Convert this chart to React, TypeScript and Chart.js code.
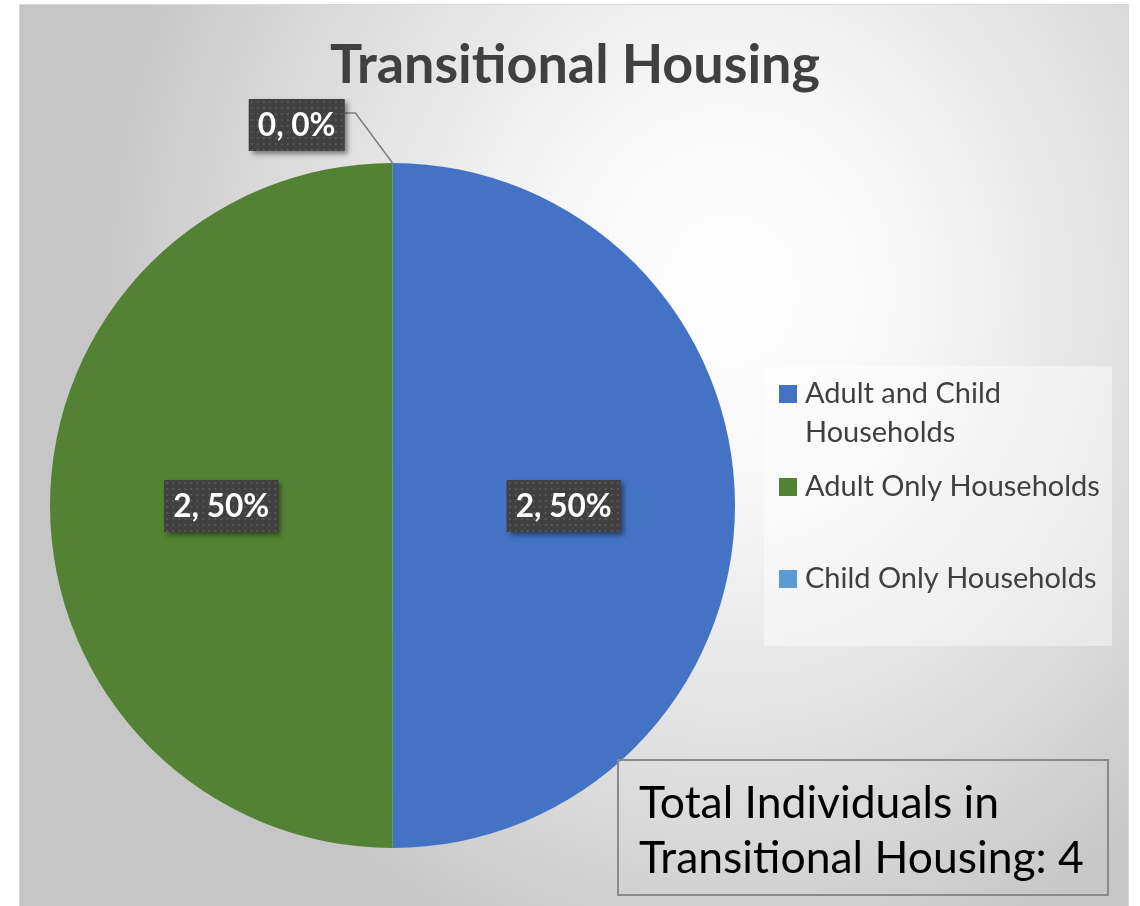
import React, { useEffect, useRef } from "react";
import { Chart, registerables } from "chart.js";

Chart.register(...registerables);

const categories = ["Adult and Child Households", "Adult Only Households", "Child Only Households"];
const values = [2, 2, 0];
const colors = ["#4472C4", "#548235", "#5B9BD5"];
const chartTitle = "Transitional Housing";
const totalPrefix = "Total Individuals in Transitional Housing: ";

const FONT = "Lato, 'Open Sans', sans-serif";

function fitSize(ctx: CanvasRenderingContext2D, text: string, targetW: number, weight: string) {
  ctx.font = `${weight} 100px ${FONT}`;
  const w = ctx.measureText(text).width;
  return (100 * targetW) / w;
}

function wrap(ctx: CanvasRenderingContext2D, text: string, maxW: number) {
  const words = text.split(" ");
  const lines: string[] = [];
  let cur = "";
  for (const w of words) {
    const t = cur ? cur + " " + w : w;
    if (ctx.measureText(t).width > maxW && cur) {
      lines.push(cur);
      cur = w;
    } else cur = t;
  }
  if (cur) lines.push(cur);
  return lines;
}

let patternCanvas: HTMLCanvasElement | null = null;
function getPattern(ctx: CanvasRenderingContext2D) {
  if (!patternCanvas) {
    patternCanvas = document.createElement("canvas");
    patternCanvas.width = 6;
    patternCanvas.height = 6;
    const p = patternCanvas.getContext("2d")!;
    p.fillStyle = "#404040";
    p.fillRect(0, 0, 6, 6);
    p.fillStyle = "#575757";
    p.fillRect(2, 2, 2, 2);
  }
  return ctx.createPattern(patternCanvas, "repeat")!;
}

function drawLabelBox(ctx: CanvasRenderingContext2D, text: string, cx: number, cy: number, fontSize: number) {
  ctx.font = `bold ${fontSize}px ${FONT}`;
  const tw = ctx.measureText(text).width;
  const bw = tw + 18;
  const bh = 52;
  const x = cx - bw / 2;
  const y = cy - bh / 2;
  ctx.save();
  ctx.shadowColor = "rgba(0,0,0,0.45)";
  ctx.shadowBlur = 5;
  ctx.shadowOffsetX = 3;
  ctx.shadowOffsetY = 3;
  ctx.fillStyle = "#404040";
  ctx.fillRect(x, y, bw, bh);
  ctx.restore();
  ctx.save();
  ctx.translate(x, y);
  ctx.fillStyle = getPattern(ctx);
  ctx.fillRect(0, 0, bw, bh);
  ctx.restore();
  ctx.fillStyle = "#ffffff";
  ctx.textAlign = "center";
  ctx.textBaseline = "alphabetic";
  ctx.fillText(text, cx, cy + fontSize * 0.36);
  return { x, y, w: bw, h: bh };
}

const decorPlugin = {
  id: "decor",
  beforeDraw(chart: any) {
    const ctx: CanvasRenderingContext2D = chart.ctx;
    const W = chart.width;
    const H = chart.height;
    ctx.save();
    ctx.fillStyle = "#ffffff";
    ctx.fillRect(0, 0, W, H);
    // framed area with elliptical radial gradient
    const fx = 19, fy = 4, fw = 1109, fh = H - fy + 2;
    const cx = 730, cy = 290, rx = 640, ry = 720;
    const s = ry / rx;
    ctx.save();
    ctx.beginPath();
    ctx.rect(fx, fy, fw, fh);
    ctx.clip();
    ctx.translate(cx, cy);
    ctx.scale(1, s);
    const g = ctx.createRadialGradient(0, 0, 0, 0, 0, rx);
    g.addColorStop(0, "#ffffff");
    g.addColorStop(0.3, "#f6f6f6");
    g.addColorStop(0.75, "#d9d9d9");
    g.addColorStop(1, "#c6c6c6");
    ctx.fillStyle = g;
    ctx.fillRect(fx - cx, (fy - cy) / s, fw, fh / s);
    ctx.restore();
    ctx.strokeStyle = "#d9d9d9";
    ctx.lineWidth = 1;
    ctx.strokeRect(fx + 0.5, fy + 0.5, fw, fh);
    ctx.restore();
  },
  afterDraw(chart: any) {
    const ctx: CanvasRenderingContext2D = chart.ctx;
    const meta = chart.getDatasetMeta(0);
    const data: number[] = chart.data.datasets[0].data;
    const labels: string[] = chart.data.labels;
    const bg: string[] = chart.data.datasets[0].backgroundColor;
    const total = data.reduce((a, b) => a + b, 0);

    ctx.save();
    // Title
    const tSize = fitSize(ctx, chartTitle, 490, "bold");
    ctx.font = `bold ${tSize}px ${FONT}`;
    ctx.fillStyle = "#404040";
    ctx.textAlign = "center";
    ctx.textBaseline = "alphabetic";
    ctx.fillText(chartTitle, 575, 83);

    // Data labels
    const lblSize = fitSize(ctx, "2, 50%", 96, "bold");
    meta.data.forEach((arc: any, i: number) => {
      const p = arc.getProps(["x", "y", "startAngle", "endAngle", "outerRadius"], true);
      const v = data[i];
      const pct = Math.round((v / total) * 100);
      const text = `${v}, ${pct}%`;
      if (v > 0) {
        const mid = (p.startAngle + p.endAngle) / 2;
        const lx = p.x + Math.cos(mid) * p.outerRadius * 0.5;
        const ly = p.y + Math.sin(mid) * p.outerRadius * 0.5;
        drawLabelBox(ctx, text, lx, ly + 0.5, lblSize);
      } else {
        const ex = p.x + Math.cos(p.startAngle) * p.outerRadius;
        const ey = p.y + Math.sin(p.startAngle) * p.outerRadius;
        ctx.font = `bold ${lblSize}px ${FONT}`;
        const bw = ctx.measureText(text).width + 18;
        const right = ex - 48;
        const bcx = right - bw / 2;
        const bcy = ey - 38;
        ctx.save();
        ctx.strokeStyle = "#7f7f7f";
        ctx.lineWidth = 1.5;
        ctx.beginPath();
        ctx.moveTo(ex, ey);
        ctx.lineTo(ex - 37, ey - 50);
        ctx.lineTo(right, ey - 50);
        ctx.stroke();
        ctx.restore();
        drawLabelBox(ctx, text, bcx, bcy, lblSize);
      }
    });

    // Legend
    ctx.fillStyle = "rgba(255,255,255,0.42)";
    ctx.fillRect(764, 366, 348, 280);
    const legSize = fitSize(ctx, "Adult Only Households", 295, "normal");
    ctx.font = `normal ${legSize}px ${FONT}`;
    ctx.textAlign = "left";
    const baselines = [[403, 442], [496], [588]];
    labels.forEach((lab, i) => {
      const lines = wrap(ctx, lab, 300);
      const bl = baselines[i] || [588 + (i - 2) * 92];
      ctx.fillStyle = bg[i];
      ctx.fillRect(779, bl[0] - 18, 18, 18);
      ctx.fillStyle = "#404040";
      lines.forEach((ln, j) => {
        const y = bl[j] !== undefined ? bl[j] : bl[0] + j * 39;
        ctx.fillText(ln, 805, y);
      });
    });

    // Total box
    ctx.strokeStyle = "#8a8a8a";
    ctx.lineWidth = 2;
    ctx.strokeRect(618, 760, 490, 135);
    const totalText = totalPrefix + total;
    ctx.font = `normal 40px ${FONT}`;
    const totLines = wrap(ctx, totalText, 460);
    const totSize = fitSize(ctx, totLines[totLines.length - 1], 445, "normal");
    ctx.font = `normal ${totSize}px ${FONT}`;
    ctx.fillStyle = "#000000";
    totLines.forEach((ln, j) => ctx.fillText(ln, 639, 818 + j * 55));
    ctx.restore();
  },
};

export default function App() {
  const ref = useRef<HTMLCanvasElement | null>(null);
  useEffect(() => {
    document.body.style.margin = "0";
    const canvas = ref.current!;
    const chart = new Chart(canvas, {
      type: "pie",
      data: {
        labels: categories,
        datasets: [
          {
            data: values,
            backgroundColor: colors,
            borderWidth: 0,
          },
        ],
      },
      options: {
        responsive: false,
        animation: false,
        devicePixelRatio: 1,
        layout: { padding: { left: 50, top: 163, right: 405, bottom: 58 } },
        plugins: {
          legend: { display: false },
          title: { display: false },
          tooltip: { enabled: false },
        },
      },
      plugins: [decorPlugin],
    });
    return () => chart.destroy();
  }, []);
  return (
    <div style={{ width: 1140, height: 906 }}>
      <canvas ref={ref} width={1140} height={906} style={{ display: "block", width: 1140, height: 906 }} />
    </div>
  );
}
